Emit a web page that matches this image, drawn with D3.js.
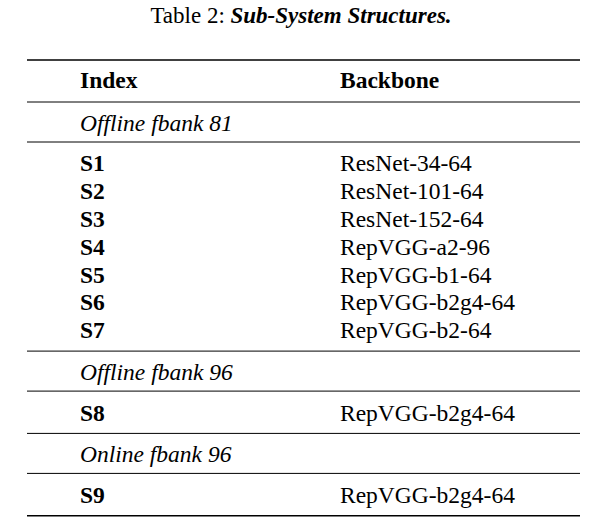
<!DOCTYPE html>
<html><head><meta charset="utf-8">
<script src="https://cdn.jsdelivr.net/npm/d3@7"></script>
<style>body{margin:0;background:#fff}</style>
</head><body><svg id="t" width="603" height="532"></svg>
<script>
// table contents
let groups = ["Offline fbank 81", "Offline fbank 96", "Online fbank 96"];
let indexes = [["S1","S2","S3","S4","S5","S6","S7"], ["S8"], ["S9"]];
let backbones = [
  ["ResNet-34-64","ResNet-101-64","ResNet-152-64","RepVGG-a2-96","RepVGG-b1-64","RepVGG-b2g4-64","RepVGG-b2-64"],
  ["RepVGG-b2g4-64"],
  ["RepVGG-b2g4-64"]
];
let headers = ["Index", "Backbone"];

let svg = d3.select("#t");
let font = "'Liberation Serif', 'Times New Roman', serif";
let x0 = 27, x1 = 580, colX = [80, 340];

// title
let title = svg.append("text").attr("x", 301).attr("y", 23).attr("text-anchor", "middle")
  .attr("font-family", font).attr("font-size", 23);
title.append("tspan").text("Table 2: ");
title.append("tspan").attr("font-weight", "bold").attr("font-style", "italic").text("Sub-System Structures.");

function rule(y, w) {
  svg.append("line").attr("x1", x0).attr("x2", x1).attr("y1", y).attr("y2", y)
    .attr("stroke", "#000").attr("stroke-width", w);
}
function cell(x, y, s, bold, italic) {
  svg.append("text").attr("x", x).attr("y", y).attr("dominant-baseline", "central")
    .attr("font-family", font).attr("font-size", 23.5)
    .attr("font-weight", bold ? "bold" : "normal")
    .attr("font-style", italic ? "italic" : "normal").text(s);
}

rule(60, 1.6);
headers.forEach((h, i) => cell(colX[i], 80, h, true, false));
let y = 102;
rule(y, 1);
let rowH = 27.8;
groups.forEach((g, gi) => {
  cell(colX[0], y + 21, g, false, true);
  y += 40;
  rule(y, 1);
  y += 7.5;
  indexes[gi].forEach((s, i) => {
    cell(colX[0], y + rowH * (i + 0.5), s, true, false);
    cell(colX[1], y + rowH * (i + 0.5), backbones[gi][i], false, false);
  });
  y += rowH * indexes[gi].length + 7;
  if (gi < groups.length - 1) rule(y, 1);
});
rule(y, 1.6);
</script></body></html>
